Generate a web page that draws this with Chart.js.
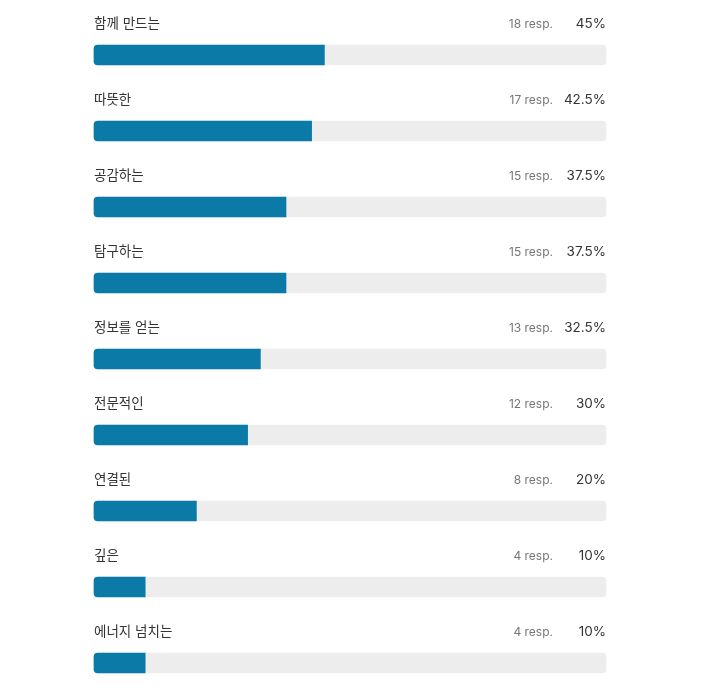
<!DOCTYPE html>
<html>
<head>
<meta charset="utf-8">
<script src="https://cdn.jsdelivr.net/npm/chart.js@4"></script>
<style>
  html, body { margin: 0; padding: 0; background: #fff; overflow: hidden; }
  #wrap { width: 701px; height: 690px; }
</style>
</head>
<body>
<div id="wrap"><canvas id="myChart"></canvas></div>
<script>
const labels = ['함께 만드는', '따뜻한', '공감하는', '탐구하는', '정보를 얻는', '전문적인', '연결된', '깊은', '에너지 넘치는'];
const responses = [18, 17, 15, 15, 13, 12, 8, 4, 4];
const percents = [45, 42.5, 37.5, 37.5, 32.5, 30, 20, 10, 10];
const track = [100, 100, 100, 100, 100, 100, 100, 100, 100];

const FONT = 'Inter, "Noto Sans CJK KR", sans-serif';

// labels above each bar, counts and percentages on the right
const rowText = {
  id: 'rowText',
  afterDatasetsDraw(chart) {
    const ctx = chart.ctx;
    const x = chart.scales.x;
    const y = chart.scales.y;
    ctx.save();
    ctx.textBaseline = 'middle';
    labels.forEach((lab, i) => {
      const cy = y.getPixelForValue(i) - 31;
      ctx.font = '13.5px ' + FONT;
      ctx.fillStyle = '#333';
      ctx.textAlign = 'left';
      ctx.fillText(lab, x.left, cy);
      ctx.textAlign = 'right';
      ctx.fillText(percents[i] + '%', x.right, cy);
      ctx.font = '12px ' + FONT;
      ctx.fillStyle = '#777';
      ctx.fillText(responses[i] + ' resp.', x.right - 53, cy);
    });
    ctx.restore();
  }
};

let ctx = document.getElementById('myChart').getContext('2d');
let chart = new Chart(ctx, {
  type: 'bar',
  data: {
    labels: labels,
    datasets: [{
      data: percents,
      backgroundColor: '#0b7aa7',
      borderRadius: { topLeft: 4, bottomLeft: 4, topRight: 0, bottomRight: 0 },
      borderSkipped: false,
      barThickness: 20,
      grouped: false,
      clip: false,
      order: 0
    }, {
      data: track,
      backgroundColor: '#ededed',
      borderRadius: 4,
      borderSkipped: false,
      barThickness: 20,
      grouped: false,
      clip: false,
      order: 1
    }]
  },
  options: {
    indexAxis: 'y',
    responsive: true,
    maintainAspectRatio: false,
    animation: false,
    layout: { padding: { left: 94, right: 95, top: 55, bottom: 27 } },
    scales: {
      x: { display: false, min: 0, max: 100 },
      y: { display: false, offset: false }
    },
    plugins: {
      legend: { display: false },
      tooltip: { enabled: false }
    }
  },
  plugins: [rowText]
});
</script>
</body>
</html>
